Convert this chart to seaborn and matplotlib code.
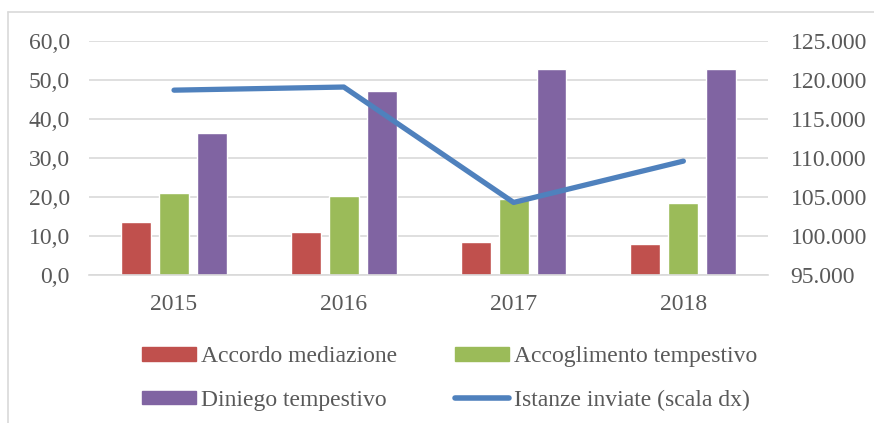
import pandas as pd
import matplotlib.pyplot as plt
import seaborn as sns
from matplotlib.lines import Line2D
from matplotlib.patches import Patch
from matplotlib.ticker import FuncFormatter

years = ['2015', '2016', '2017', '2018']
accordo = [13.6, 10.9, 8.5, 8.0]
accoglimento = [21.1, 20.2, 19.5, 18.5]
diniego = [36.4, 47.1, 52.9, 52.7]
istanze = [118700, 119100, 104300, 109600]

series_names = ['Accordo mediazione', 'Accoglimento tempestivo', 'Diniego tempestivo']
line_name = 'Istanze inviate (scala dx)'
colors = ['#C0504D', '#9BBB59', '#8064A2']
line_color = '#4F81BD'
text_color = '#595959'


def build_frame():
    """
    Builds the long dataframe used by the bar plot.
    """
    rows = []
    for name, values in zip(series_names, [accordo, accoglimento, diniego]):
        for year, v in zip(years, values):
            rows.append({'anno': year, 'serie': name, 'valore': v})
    return pd.DataFrame(rows)


def main():
    sns.set_style('white')
    plt.rcParams['font.family'] = ['Liberation Serif', 'DejaVu Serif']
    plt.rcParams['font.size'] = 17

    fig = plt.figure(figsize=(8.74, 4.23), dpi=100)
    ax = fig.add_axes([0.102, 0.35, 0.777, 0.553])

    data = build_frame()
    sns.barplot(data=data, x='anno', y='valore', hue='serie',
                palette=colors, saturation=1, width=0.67, gap=0.21,
                ax=ax, legend=False, zorder=2)
    ax.set_ylim(0, 60)
    ax.set_yticks(range(0, 61, 10))
    ax.yaxis.set_major_formatter(
        FuncFormatter(lambda v, p: f'{v:.1f}'.replace('.', ',')))
    ax.grid(axis='y', color='#D9D9D9', linewidth=1.2, zorder=0)
    ax.set_axisbelow(True)
    ax.set_xlabel('')
    ax.set_ylabel('')
    for s in ['top', 'right', 'left']:
        ax.spines[s].set_visible(False)
    ax.spines['bottom'].set_color('#D9D9D9')
    ax.spines['bottom'].set_linewidth(1.2)
    ax.tick_params(axis='y', length=0, colors=text_color, pad=14)
    ax.tick_params(axis='x', length=0, colors=text_color, pad=14)

    ax2 = ax.twinx()
    line_df = pd.DataFrame({'anno': years, 'istanze': istanze})
    sns.lineplot(data=line_df, x='anno', y='istanze', color=line_color,
                 linewidth=3.8, ax=ax2, sort=False)
    ax2.set_ylim(95000, 125000)
    ax2.set_yticks(range(95000, 125001, 5000))
    ax2.yaxis.set_major_formatter(
        FuncFormatter(lambda v, p: f'{int(v):,}'.replace(',', '.')))
    ax2.set_ylabel('')
    for s in ['top', 'right', 'left', 'bottom']:
        ax2.spines[s].set_visible(False)
    ax2.tick_params(axis='y', length=0, colors=text_color, pad=16)
    ax.set_xlim(-0.5, 3.5)

    handles = [Patch(color=c) for c in colors]
    handles.append(Line2D([0], [0], color=line_color, linewidth=4,
                          solid_capstyle='round'))
    order = [0, 2, 1, 3]
    labels = series_names + [line_name]
    leg = fig.legend([handles[i] for i in order], [labels[i] for i in order],
                     ncol=2, loc='center', bbox_to_anchor=(0.514, 0.105),
                     frameon=False, handlelength=2.3, handleheight=0.5,
                     handletextpad=0.2, columnspacing=2.45, labelspacing=0.95)
    for t in leg.get_texts():
        t.set_color(text_color)

    # outer chart frame
    fig.add_artist(Line2D([8 / 874, 8 / 874], [0, 1 - 12 / 423],
                          color='#D9D9D9', linewidth=1.2))
    fig.add_artist(Line2D([8 / 874, 1], [1 - 12 / 423, 1 - 12 / 423],
                          color='#D9D9D9', linewidth=1.2))

    fig.savefig('out.png', dpi=100)


if __name__ == '__main__':
    main()
